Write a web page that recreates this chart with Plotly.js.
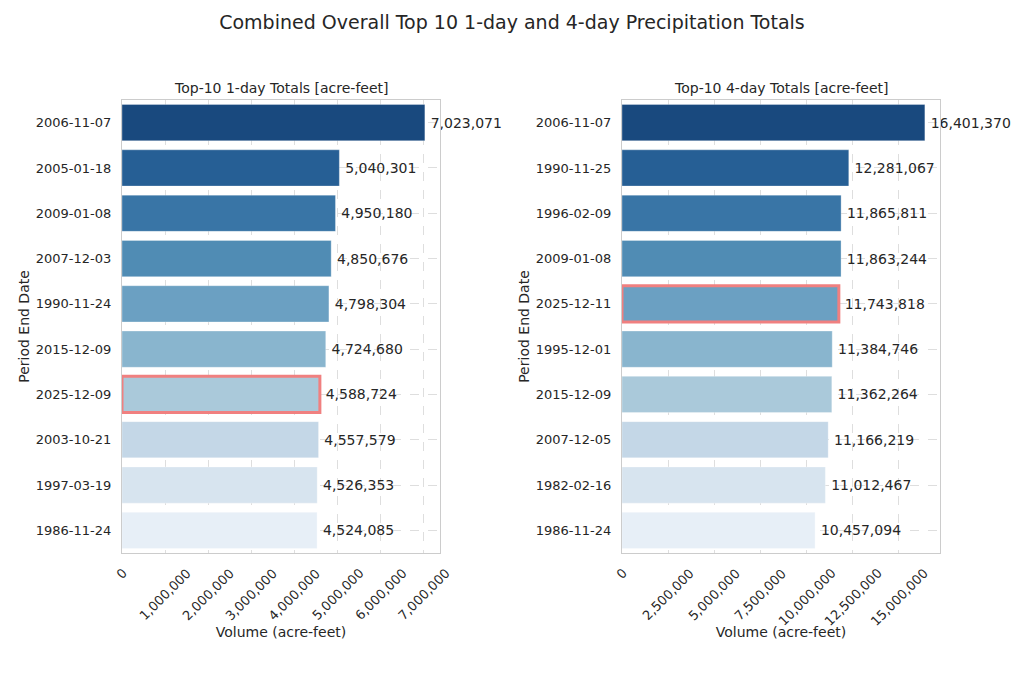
<!DOCTYPE html>
<html>
<head>
<meta charset="utf-8">
<script src="https://cdn.plot.ly/plotly-3.0.1.min.js"></script>
<style>
  html, body { margin: 0; padding: 0; background: #ffffff; }
  #chart { width: 1024px; height: 683px; }
</style>
</head>
<body>
<div id="chart"></div>
<script>
// Top-10 1-day totals (acre-feet), ranked
const dates1 = ['2006-11-07', '2005-01-18', '2009-01-08', '2007-12-03', '1990-11-24',
                '2015-12-09', '2025-12-09', '2003-10-21', '1997-03-19', '1986-11-24'];
const values1 = [7023071, 5040301, 4950180, 4850676, 4798304,
                 4724680, 4588724, 4557579, 4526353, 4524085];

// Top-10 4-day totals (acre-feet), ranked
const dates4 = ['2006-11-07', '1990-11-25', '1996-02-09', '2009-01-08', '2025-12-11',
                '1995-12-01', '2015-12-09', '2007-12-05', '1982-02-16', '1986-11-24'];
const values4 = [16401370, 12281067, 11865811, 11863244, 11743818,
                 11384746, 11362264, 11166219, 11012467, 10457094];

// Current event to outline in each ranking
const current1 = '2025-12-09';
const current4 = '2025-12-11';

// Tick spacing of the volume axes
const step1 = 1000000;
const step4 = 2500000;

// Rank palette, darkest for rank 1
const rankColors = ['#19497e', '#265f95', '#3975a6', '#508cb4', '#6ba0c2',
                    '#89b5ce', '#aac9da', '#c4d7e7', '#d7e4ef', '#e7eff7'];

const FONT = 'DejaVu Sans, Liberation Sans, sans-serif';
const INK = '#262626';
const HIGHLIGHT = '#f08080';
const Y_DOMAIN = [130 / 683, 583 / 683];

const fmt = v => v.toLocaleString('en-US');

function barTrace(dates, values, current, xa, ya) {
  return {
    type: 'bar',
    orientation: 'h',
    x: values,
    y: dates,
    xaxis: xa,
    yaxis: ya,
    width: 0.8,
    marker: {
      color: rankColors.slice(0, values.length),
      line: {
        color: dates.map(d => d === current ? HIGHLIGHT : 'rgba(255,255,255,0.6)'),
        width: dates.map(d => d === current ? 3 : 0.5)
      }
    },
    // thin space keeps the value clear of the bar end
    text: values.map(v => '\u2009' + fmt(v)),
    textposition: 'outside',
    constraintext: 'none',
    cliponaxis: false,
    textfont: { family: FONT, size: 14, color: INK },
    hoverinfo: 'x+y',
    showlegend: false
  };
}

function xAxis(domain, values, dtick, anchor) {
  return {
    domain: domain,
    anchor: anchor,
    range: [0, Math.max(...values) * 1.05],
    dtick: dtick,
    tick0: 0,
    ticks: '',
    showticklabels: false,
    showgrid: true,
    gridcolor: '#dedede',
    griddash: 'dash',
    gridwidth: 1,
    zeroline: false,
    showline: true,
    linecolor: '#cccccc',
    linewidth: 1.2,
    mirror: true,
    automargin: false,
    fixedrange: true,
    title: { text: 'Volume (acre-feet)', font: { family: FONT, size: 14, color: INK }, standoff: 74 }
  };
}

function yAxis(dates, anchor) {
  return {
    domain: Y_DOMAIN,
    anchor: anchor,
    type: 'category',
    categoryorder: 'array',
    categoryarray: dates,
    autorange: 'reversed',
    ticks: '',
    ticklabelstandoff: 7,
    tickfont: { family: FONT, size: 13, color: INK },
    showgrid: true,
    gridcolor: '#dedede',
    griddash: 'dash',
    gridwidth: 1,
    zeroline: false,
    showline: true,
    linecolor: '#cccccc',
    linewidth: 1.2,
    mirror: true,
    automargin: false,
    fixedrange: true,
    title: { text: 'Period End Date', font: { family: FONT, size: 14, color: INK }, standoff: 2 }
  };
}

// Slanted volume tick labels, centred under each tick
function tickLabels(values, step, xref) {
  const top = Math.max(...values) * 1.05;
  const out = [];
  for (let v = 0; v <= top; v += step) {
    out.push({
      text: fmt(v),
      xref: xref, yref: 'paper',
      x: v, y: Y_DOMAIN[0],
      xanchor: 'center', yanchor: 'top',
      yshift: -10,
      textangle: -45,
      showarrow: false,
      font: { family: FONT, size: 13, color: INK }
    });
  }
  return out;
}

const data = [
  barTrace(dates1, values1, current1, 'x', 'y'),
  barTrace(dates4, values4, current4, 'x2', 'y2')
];

const dom1 = [122 / 1024, 440 / 1024];
const dom2 = [622 / 1024, 940 / 1024];

function panelTitle(text, dom) {
  return {
    text: text,
    xref: 'paper', yref: 'paper',
    x: (dom[0] + dom[1]) / 2, y: Y_DOMAIN[1],
    xanchor: 'center', yanchor: 'bottom', yshift: 2,
    showarrow: false,
    font: { family: FONT, size: 14, color: INK }
  };
}

const layout = {
  width: 1024,
  height: 683,
  margin: { l: 0, r: 0, t: 0, b: 0 },
  paper_bgcolor: '#ffffff',
  plot_bgcolor: '#ffffff',
  font: { family: FONT, color: INK },
  bargap: 0.2,
  title: {
    text: 'Combined Overall Top 10 1-day and 4-day Precipitation Totals',
    font: { family: FONT, size: 19, color: INK },
    x: 0.5,
    xanchor: 'center',
    yref: 'container',
    y: 1 - 22 / 683,
    yanchor: 'middle'
  },
  xaxis: xAxis(dom1, values1, step1, 'y'),
  yaxis: yAxis(dates1, 'x'),
  xaxis2: xAxis(dom2, values4, step4, 'y2'),
  yaxis2: yAxis(dates4, 'x2'),
  annotations: [
    panelTitle('Top-10 1-day Totals [acre-feet]', dom1),
    panelTitle('Top-10 4-day Totals [acre-feet]', dom2),
    ...tickLabels(values1, step1, 'x'),
    ...tickLabels(values4, step4, 'x2')
  ]
};

Plotly.newPlot('chart', data, layout, { displayModeBar: false, staticPlot: true });
</script>
</body>
</html>
